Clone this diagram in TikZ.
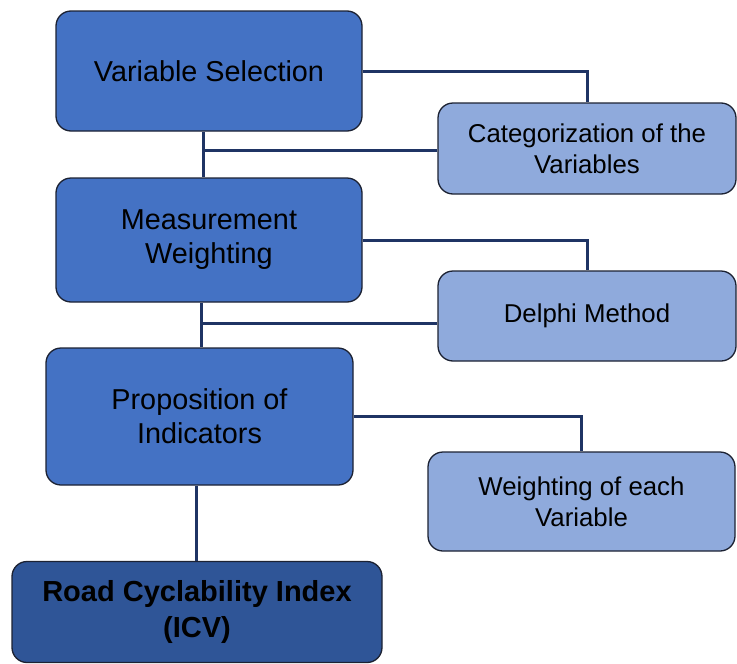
\documentclass[tikz,border=0pt]{standalone}
\usepackage{fontspec}
\setmainfont{Liberation Sans}
\usetikzlibrary{calc}

\definecolor{mainblue}{HTML}{4472C4}
\definecolor{subblue}{HTML}{8FAADC}
\definecolor{icvblue}{HTML}{2F5597}
\definecolor{linknavy}{HTML}{1F3464}
\definecolor{boxedge}{HTML}{1C2233}

\tikzset{
    basebox/.style={draw=boxedge,line width=1.3pt,rounded corners=15pt,inner sep=0pt,
        align=center,text=black},
    mainbox/.style={basebox,fill=mainblue,font=\fontsize{28.8}{34}\selectfont},
    subbox/.style={basebox,fill=subblue,font=\fontsize{25.8}{31}\selectfont},
    icvbox/.style={basebox,fill=icvblue,font=\fontsize{29}{36}\selectfont\bfseries},
    link/.style={draw=linknavy,line width=3pt}
}

\begin{document}
\begin{tikzpicture}[x=1pt,y=-1pt]
    \useasboundingbox (0,0) rectangle (737,664); % keeps the margins

    \node[mainbox,minimum width=306pt,minimum height=120pt] (varsel) at (209,71) {Variable Selection};
    \node[subbox,minimum width=298pt,minimum height=91pt] (categ) at (587,148.5) {Categorization of the\\Variables};
    \node[mainbox,minimum width=306pt,minimum height=124pt] (measw) at (209,240) {Measurement\\Weighting};
    \node[subbox,minimum width=298pt,minimum height=90pt] (delphi) at (587,316) {Delphi Method};
    \node[mainbox,minimum width=307pt,minimum height=137pt] (propind) at (199.5,416.5) {Proposition of\\Indicators};
    \node[subbox,minimum width=307pt,minimum height=99pt] (weighteach) at (581.5,501.5) {Weighting of each\\Variable};
    \node[icvbox,minimum width=370pt,minimum height=101pt] (icv) at (197,612) {Road Cyclability Index\\(ICV)};

    % spine of the chain
    \coordinate (spineA) at ($(varsel.south)+(-6,0)$);
    \coordinate (spineB) at ($(measw.south)+(-8,0)$);

    \draw[link] (varsel.east) -| (categ.north);
    \draw[link] (spineA) -- (spineA |- measw.north);
    \draw[link] ([yshift=-1.5pt]categ.west) -- ([yshift=-1.5pt]categ.west -| spineA);

    \draw[link] (measw.east) -| (delphi.north);
    \draw[link] (spineB) -- (spineB |- propind.north);
    \draw[link] ([yshift=-7pt]delphi.west) -- ([yshift=-7pt]delphi.west -| spineB);

    \draw[link] (propind.east) -| (weighteach.north);
    \draw[link] ([xshift=-3pt]propind.south) -- ([xshift=-3pt]propind.south |- icv.north);
\end{tikzpicture}
\end{document}
